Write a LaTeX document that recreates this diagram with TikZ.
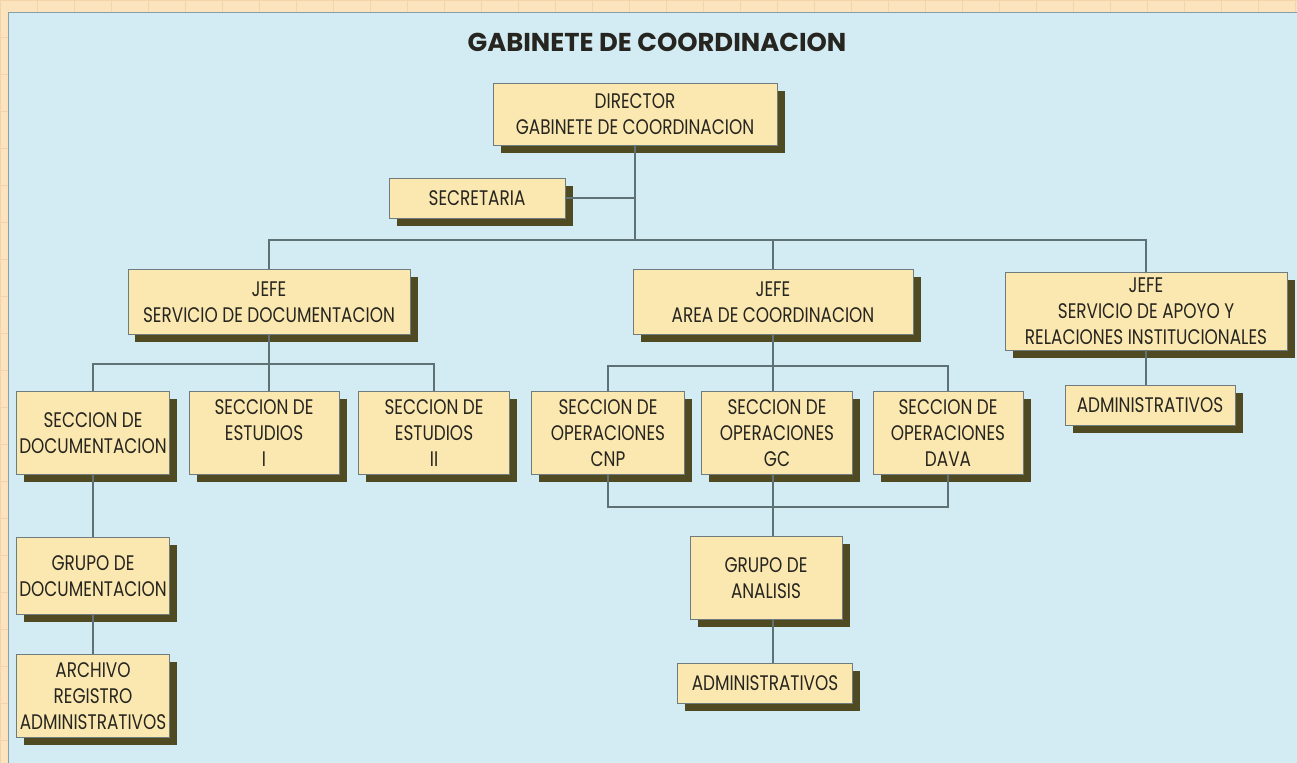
\documentclass[tikz,border=0pt]{standalone}
\usepackage{fontspec}
\setmainfont[FakeStretch=0.8]{Poppins}
\newfontfamily\headfont{Poppins}
\usetikzlibrary{shadows}
\definecolor{peach}{HTML}{FBE3BD}
\definecolor{gridc}{HTML}{F3D3A8}
\definecolor{panel}{HTML}{D3EBF3}
\definecolor{edgec}{HTML}{8AA0A8}
\definecolor{boxfill}{HTML}{FBE8B0}
\definecolor{boxline}{HTML}{6E7C80}
\definecolor{shadowc}{HTML}{4F4A22}
\definecolor{linec}{HTML}{5E7276}
\definecolor{textc}{HTML}{26251F}

\begin{document}
\begin{tikzpicture}[x=0.2mm, y=-0.2mm, font=\fontsize{12}{14.8}\selectfont,
  box/.style={draw=boxline, fill=boxfill, text=textc, align=center, inner sep=0pt, line width=0.5pt,
    drop shadow={shadow xshift=1.5mm, shadow yshift=-1.5mm, fill=shadowc, opacity=1}},
  link/.style={draw=linec, line width=0.6pt}]
\useasboundingbox (0,0) rectangle (1297,763);
\fill[peach] (0,0) rectangle (1297,763);
\foreach \x in {0,37,...,1297} {
 \draw[gridc] (\x,0) --++(0,763);
}
\foreach \y in {0,37,...,763} {
 \draw[gridc] (0,\y) --++(1297,0);
}
\fill[panel] (8,12) rectangle (1297,763);
\draw[edgec] (8,763) -- (8,12) -- (1297,12);

\node[text=textc, font=\headfont\fontsize{14.7}{17}\selectfont\bfseries] (title) at (657,42) {GABINETE DE COORDINACION};

\node[box, minimum width=56.8mm, minimum height=12.4mm] (dir) at (635,114) {DIRECTOR\\GABINETE DE COORDINACION};
\node[box, minimum width=35.2mm, minimum height=8mm] (sec) at (477,198) {SECRETARIA};

\node[box, minimum width=56.4mm, minimum height=13mm] (jdoc) at (269,302) {JEFE\\SERVICIO DE DOCUMENTACION};
\node[box, minimum width=56mm, minimum height=13mm] (jarea) at (773,302) {JEFE\\AREA DE COORDINACION};
\node[box, minimum width=56.4mm, minimum height=15.6mm] (japo) at (1146,311) {JEFE\\SERVICIO DE APOYO Y\\RELACIONES INSTITUCIONALES};

\node[box, minimum width=30.6mm, minimum height=16.6mm] (sdoc) at (93,433) {SECCION DE\\DOCUMENTACION};
\node[box, minimum width=30mm, minimum height=16.6mm] (sest1) at (264,433) {SECCION DE\\ESTUDIOS\\I};
\node[box, minimum width=30.2mm, minimum height=16.6mm] (sest2) at (434,433) {SECCION DE\\ESTUDIOS\\II};

\node[box, minimum width=30.6mm, minimum height=16.6mm] (scnp) at (608,433) {SECCION DE\\OPERACIONES\\CNP};
\node[box, minimum width=30.2mm, minimum height=16.6mm] (sgc) at (777,433) {SECCION DE\\OPERACIONES\\GC};
\node[box, minimum width=30mm, minimum height=16.6mm] (sdava) at (948,433) {SECCION DE\\OPERACIONES\\DAVA};

\node[box, minimum width=30.6mm, minimum height=15.4mm] (gdoc) at (93,576) {GRUPO DE\\DOCUMENTACION};
\node[box, minimum width=30.6mm, minimum height=16.6mm] (arch) at (93,696) {ARCHIVO\\REGISTRO\\ADMINISTRATIVOS};
\node[box, minimum width=30.4mm, minimum height=16.6mm] (gana) at (766,578) {GRUPO DE\\ANALISIS};
\node[box, minimum width=35mm, minimum height=8mm] (adm2) at (765,683) {ADMINISTRATIVOS};
\node[box, minimum width=34mm, minimum height=8mm] (adm1) at (1150,405) {ADMINISTRATIVOS};

\coordinate (top) at (635,240);
\coordinate (dbus) at (269,364);
\coordinate (abus) at (773,366);
\coordinate (lbus) at (773,507);

\draw[link] (dir.south) -- (top);
\draw[link] (sec.east) -- (sec.east -| top);
\draw[link] (jdoc.north) |- (top) -| (japo.north);
\draw[link] (jarea.north) -- (jarea.north |- top);

\draw[link] (jdoc.south) -- (jdoc.south |- sest1.north);
\draw[link] (sdoc.north) |- (dbus) -| (sest2.north);
\draw[link] (sdoc.south) -- (gdoc.north);
\draw[link] (gdoc.south) -- (arch.north);

\draw[link] (jarea.south) -- (jarea.south |- sgc.north);
\draw[link] (scnp.north) |- (abus) -| (sdava.north);
\draw[link] (scnp.south) |- (lbus) -| (sdava.south);
\draw[link] (jarea.south |- sgc.south) -- (jarea.south |- gana.north);
\draw[link] (jarea.south |- gana.south) -- (jarea.south |- adm2.north);

\draw[link] (japo.south) -- (japo.south |- adm1.north);
\end{tikzpicture}
\end{document}
